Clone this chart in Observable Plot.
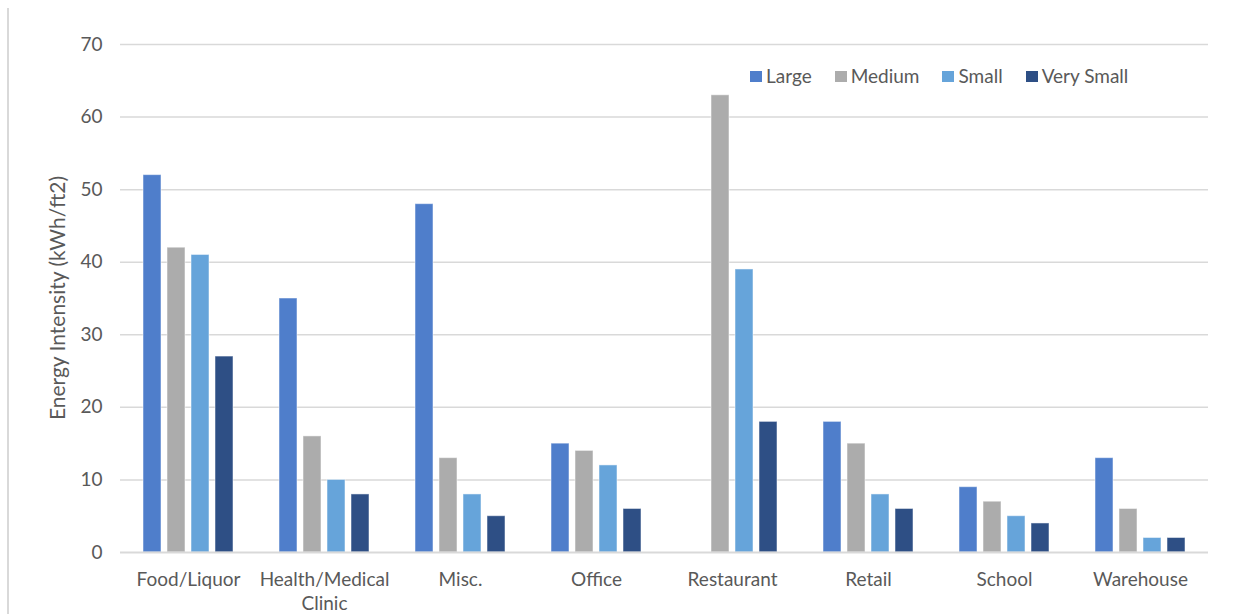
<!DOCTYPE html>
<html>
<head>
<meta charset="utf-8">
<script src="https://cdn.jsdelivr.net/npm/d3@7"></script>
<script src="https://cdn.jsdelivr.net/npm/@observablehq/plot@0.6"></script>
<style>
  body { margin: 0; background: #fff; }
  #wrap { position: relative; width: 1233px; height: 614px; overflow: hidden; font-family: Lato, "Open Sans", sans-serif; }
  #edge { position: absolute; left: 7px; top: 8px; width: 2px; height: 606px; background: #d9d9d9; }
  #legend { position: absolute; left: 750px; top: 64px; display: flex; gap: 23px; font-size: 19px; line-height: 24px; color: #595959; z-index: 2; }
  #legend .item { display: flex; align-items: center; gap: 4px; }
  #legend .sw { width: 12px; height: 11px; display: inline-block; }
  #ylabel { position: absolute; left: 57px; top: 298px; transform: translate(-50%, -50%) rotate(-90deg); white-space: nowrap; font-size: 21px; line-height: 24px; color: #595959; z-index: 2; }
  #wrap svg { position: absolute; left: 0; top: 0; }
</style>
</head>
<body>
<div id="wrap"><div id="edge"></div></div>
<script>
// Building types along the bottom axis
const categories = ["Food/Liquor", "Health/Medical Clinic", "Misc.", "Office", "Restaurant", "Retail", "School", "Warehouse"];
// Building size classes (series)
const sizes = ["Large", "Medium", "Small", "Very Small"];
// Energy intensity per size class, kWh/ft2, in category order (null = no data)
const large     = [52, 35, 48, 15, null, 18, 9, 13];
const medium    = [42, 16, 13, 14, 63, 15, 7, 6];
const small     = [41, 10, 8, 12, 39, 8, 5, 2];
const verySmall = [27, 8, 5, 6, 18, 6, 4, 2];
// Value axis ticks and title
const yTicks = [0, 10, 20, 30, 40, 50, 60, 70];
const yTitle = "Energy Intensity (kWh/ft2)";

const colors = ["#4f7ecb", "#acacac", "#66a4da", "#2e4f85"];
const series = [large, medium, small, verySmall];

const rows = [];
categories.forEach((c, i) => {
  sizes.forEach((s, j) => {
    const v = series[j][i];
    if (v != null) rows.push({category: c, size: s, value: v});
  });
});

const font = "Lato, 'Open Sans', sans-serif";

const chart = Plot.plot({
  width: 1233,
  height: 614,
  marginLeft: 118,
  marginRight: 23,
  marginTop: 44,
  marginBottom: 62,
  style: {fontFamily: font, fontSize: "19px", color: "#595959", background: "transparent", overflow: "visible"},
  fx: {domain: categories, padding: 0, label: null},
  x: {domain: sizes, paddingInner: 0.23, paddingOuter: 0.88, axis: null},
  y: {domain: [0, 70], label: null},
  color: {domain: sizes, range: colors},
  marks: [
    Plot.ruleY(yTicks.filter(d => d > 0), {stroke: "#d9d9d9", strokeWidth: 1.5}),
    Plot.barY(rows, {fx: "category", x: "size", y: "value", fill: "size", stroke: "#ffffff", strokeOpacity: 0.5, strokeWidth: 1}),
    Plot.ruleY([0], {stroke: "#d9d9d9", strokeWidth: 2}),
    Plot.axisY({ticks: yTicks, tickSize: 0, tickPadding: 18, fill: "#595959", fontSize: 19, label: null}),
    Plot.axisFx({
      anchor: "bottom", tickSize: 0, tickPadding: 16, fill: "#595959", fontSize: 19, label: null, lineHeight: 1.27,
      tickFormat: d => d.replace("Medical ", "Medical\n")
    })
  ]
});

const wrap = document.getElementById("wrap");
wrap.appendChild(chart);

// Rotated value-axis title
d3.select(wrap).append("div").attr("id", "ylabel").text(yTitle);

// Legend row drawn from the same series names and colours
const legend = d3.select(wrap).append("div").attr("id", "legend");
const items = legend.selectAll(".item").data(sizes).join("div").attr("class", "item");
items.append("span").attr("class", "sw").style("background", (d, i) => colors[i]);
items.append("span").text(d => d);
</script>
</body>
</html>
